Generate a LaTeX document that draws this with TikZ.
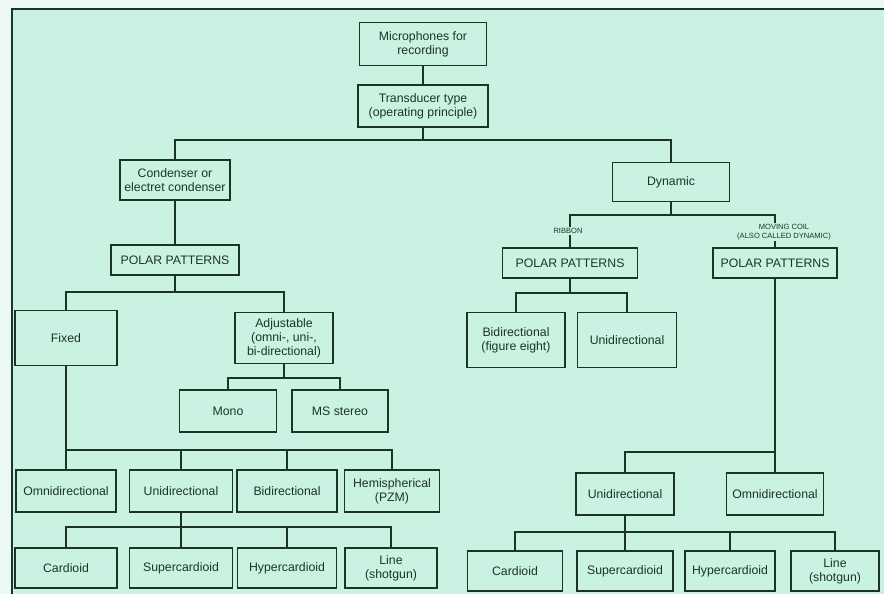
\documentclass[tikz,border=0pt]{standalone}
\usepackage{fontspec}
\setmainfont{Liberation Sans}
\usepackage{tikz}

\definecolor{mint}{RGB}{202,242,226}
\definecolor{paper}{RGB}{236,248,244}
\definecolor{ink}{RGB}{28,52,38}

\tikzset{
  box/.style={draw=ink, line width=1pt, fill=mint, align=center, font=\scriptsize, text=ink, inner sep=1pt},
  wh/.style 2 args={minimum width=#1*0.02cm, minimum height=#2*0.02cm},
  link/.style={draw=ink, line width=1.1pt},
  tag/.style={fill=mint, font=\fontsize{4.3}{5}\selectfont, text=ink, align=center, inner sep=0.6pt},
}

\begin{document}
\begin{tikzpicture}[x=0.02cm,y=-0.02cm]
    \useasboundingbox (0,0) rectangle (884,594);
    \fill[paper] (0,0) rectangle (884,594);
    \fill[mint] (12,9) rectangle (884,594);
    \draw[ink, line width=1.2pt] (12,594) -- (12,9) -- (884,9);

    % top of the tree
    \node[box, wh={127}{43}] (mic) at (423,44) {Microphones for\\recording};
    \node[box, wh={130}{42}] (trans) at (423,106) {Transducer type\\(operating principle)};

    % condenser side
    \node[box, wh={110}{40}] (cond) at (175,180) {Condenser or\\electret condenser};
    \node[box, wh={128}{30}] (polL) at (175,260) {POLAR PATTERNS};
    \node[box, wh={102}{55}] (fixed) at (66,338) {Fixed};
    \node[box, wh={98}{51}] (adj) at (284,338) {Adjustable\\(omni-, uni-,\\bi-directional)};
    \node[box, wh={97}{42}] (mono) at (228,411) {Mono};
    \node[box, wh={96}{42}] (ms) at (340,411) {MS stereo};
    \node[box, wh={100}{42}] (omniL) at (66,491) {Omnidirectional};
    \node[box, wh={103}{42}] (uniL) at (181,491) {Unidirectional};
    \node[box, wh={100}{42}] (biL) at (287,491) {Bidirectional};
    \node[box, wh={95}{42}] (hemi) at (392,491) {Hemispherical\\(PZM)};
    \node[box, wh={102}{40}] (cardL) at (66,568) {Cardioid};
    \node[box, wh={103}{40}] (supL) at (181,568) {Supercardioid};
    \node[box, wh={99}{40}] (hypL) at (287,568) {Hypercardioid};
    \node[box, wh={92}{40}] (lineL) at (391,568) {Line\\(shotgun)};

    % dynamic side
    \node[box, wh={117}{39}] (dyn) at (671,182) {Dynamic};
    \node[box, wh={135}{30}] (polR1) at (570,263) {POLAR PATTERNS};
    \node[box, wh={124}{30}] (polR2) at (775,263) {POLAR PATTERNS};
    \node[box, wh={98}{55}] (bidir) at (516,340) {Bidirectional\\(figure eight)};
    \node[box, wh={99}{55}] (uniR1) at (627,340) {Unidirectional};
    \node[box, wh={98}{42}] (uniR2) at (625,494) {Unidirectional};
    \node[box, wh={97}{42}] (omniR) at (775,494) {Omnidirectional};
    \node[box, wh={95}{40}] (cardR) at (515,571) {Cardioid};
    \node[box, wh={96}{40}] (supR) at (625,571) {Supercardioid};
    \node[box, wh={90}{40}] (hypR) at (730,571) {Hypercardioid};
    \node[box, wh={88}{40}] (lineR) at (835,571) {Line\\(shotgun)};

    % junctions
    \coordinate (jtop) at (423,140);
    \coordinate (jpol) at (175,292);
    \coordinate (jadj) at (284,378);
    \coordinate (jfix) at (66,450);
    \coordinate (juniL) at (181,527);
    \coordinate (jdyn) at (671,215);
    \coordinate (jrib) at (570,293);
    \coordinate (jmc) at (775,452);
    \coordinate (juniR) at (625,532);

    \draw[link] (mic) -- (trans);
    \draw[link] (trans) -- (jtop);
    \draw[link] (jtop) -| (cond);
    \draw[link] (jtop) -| (dyn);

    \draw[link] (cond) -- (polL);
    \draw[link] (polL) -- (jpol);
    \foreach \n in {fixed,adj}
        \draw[link] (jpol) -| (\n);
    \draw[link] (adj) -- (jadj);
    \foreach \n in {mono,ms}
        \draw[link] (jadj) -| (\n);
    \draw[link] (fixed) -- (omniL);
    \foreach \n in {uniL,biL,hemi}
        \draw[link] (jfix) -| (\n);
    \draw[link] (uniL) -- (supL);
    \foreach \n in {cardL,hypL,lineL}
        \draw[link] (juniL) -| (\n);

    \draw[link] (dyn) -- (jdyn);
    \foreach \n in {polR1,polR2}
        \draw[link] (jdyn) -| (\n);
    \draw[link] (polR1) -- (jrib);
    \foreach \n in {bidir,uniR1}
        \draw[link] (jrib) -| (\n);
    \draw[link] (polR2) -- (omniR);
    \draw[link] (jmc) -| (uniR2);
    \draw[link] (uniR2) -- (supR);
    \foreach \n in {cardR,hypR,lineR}
        \draw[link] (juniR) -| (\n);

    % small labels over the lines
    \node[tag] (ribbon) at (568,231) {RIBBON};
    \node[tag] (coil) at (784,232) {MOVING COIL\\(ALSO CALLED DYNAMIC)};
\end{tikzpicture}
\end{document}
